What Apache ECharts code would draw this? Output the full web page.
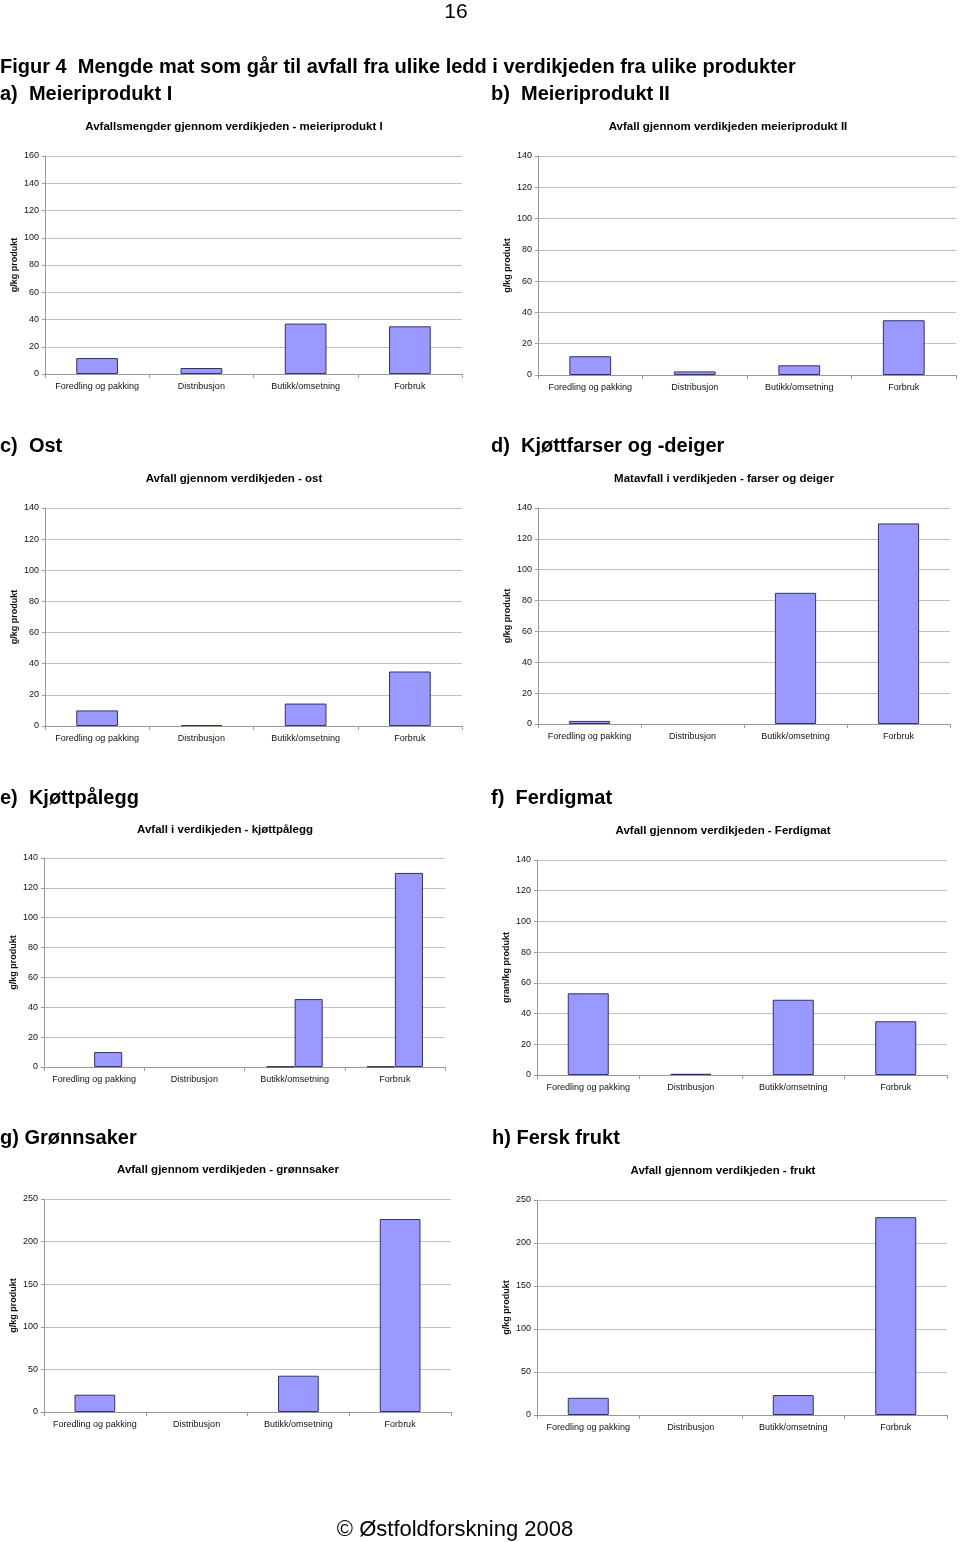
<!DOCTYPE html>
<html>
<head>
<meta charset="utf-8">
<script src="https://cdn.jsdelivr.net/npm/echarts@6/dist/echarts.min.js"></script>
<style>
html,body{margin:0;padding:0;background:#fff;}
#c{width:960px;height:1542px;}
</style>
</head>
<body>
<div id="c"></div>
<script>
// ---- data ----
const categories = ['Foredling og pakking', 'Distribusjon', 'Butikk/omsetning', 'Forbruk'];
const valuesA = [11.7, 4.4, 37, 35];
const valuesB = [12, 2.3, 6.2, 35];
const valuesC = [10, 0.6, 14.4, 35];
const valuesD = [2, 0, 85, 130];
const valuesE0 = [null, null, 0.3, 0.3];   // near-zero companion series
const valuesE = [10, 0, 45.5, 130];
const valuesF = [53.2, 0.8, 49, 35];
const valuesG = [20.3, 0, 42.6, 226.5];
const valuesH = [20, 0, 23.2, 230];

const chartTitles = [
  'Avfallsmengder gjennom verdikjeden - meieriprodukt I',
  'Avfall gjennom verdikjeden meieriprodukt II',
  'Avfall gjennom verdikjeden - ost',
  'Matavfall i verdikjeden - farser og deiger',
  'Avfall i verdikjeden - kjøttpålegg',
  'Avfall gjennom verdikjeden - Ferdigmat',
  'Avfall gjennom verdikjeden - grønnsaker',
  'Avfall gjennom verdikjeden - frukt'
];
const sectionLabels = [
  'a)  Meieriprodukt I', 'b)  Meieriprodukt II',
  'c)  Ost', 'd)  Kjøttfarser og -deiger',
  'e)  Kjøttpålegg', 'f)  Ferdigmat',
  'g) Grønnsaker', 'h) Fersk frukt'
];
const yAxisNames = ['g/kg produkt', 'g/kg produkt', 'g/kg produkt', 'g/kg produkt',
  'g/kg produkt', 'gram/kg produkt', 'g/kg produkt', 'g/kg produkt'];
const yMax = [160, 140, 140, 140, 140, 140, 250, 250];
const yStep = [20, 20, 20, 20, 20, 20, 50, 50];
const pageTitle = 'Figur 4  Mengde mat som går til avfall fra ulike ledd i verdikjeden fra ulike produkter';
const pageNumber = '16';
const footer = '© Østfoldforskning 2008';

// ---- layout ----
const FONT = '"Liberation Sans", Arial, Helvetica, sans-serif';
const grids = [
  {left: 45, top: 156, width: 417, height: 218},
  {left: 538, top: 156, width: 418, height: 219},
  {left: 45, top: 508, width: 417, height: 218},
  {left: 538, top: 508, width: 412, height: 216},
  {left: 44, top: 858, width: 401, height: 209},
  {left: 537, top: 860, width: 410, height: 215},
  {left: 44, top: 1199, width: 407, height: 213},
  {left: 537, top: 1200, width: 410, height: 215}
];
const titleY = [127, 127, 479, 479, 830, 831, 1170, 1171];
const sectionPos = [[0, 94], [491, 94], [0, 446], [491, 446], [0, 798], [491, 798], [0, 1138], [492, 1138]];
const panelCenterX = [234, 728, 234, 724, 225, 723, 228, 723];

const barStyle = {color: '#9999ff', borderColor: '#333366', borderWidth: 1};

const xAxes = grids.map((g, i) => ({
  type: 'category', gridIndex: i, data: categories,
  axisLine: {lineStyle: {color: '#999999', width: 1}},
  axisTick: {show: true, length: 4, lineStyle: {color: '#999999'}},
  axisLabel: {color: '#111', fontSize: 9, fontFamily: FONT, margin: 8, interval: 0}
}));
const yAxes = grids.map((g, i) => ({
  type: 'value', gridIndex: i, min: 0, max: yMax[i], interval: yStep[i],
  name: yAxisNames[i], nameLocation: 'middle', nameRotate: 90, nameGap: 26,
  nameTextStyle: {fontSize: 9, fontWeight: 'bold', fontFamily: FONT, color: '#111'},
  axisLine: {show: true, lineStyle: {color: '#999999', width: 1}},
  axisTick: {show: true, length: 3, lineStyle: {color: '#999999'}},
  axisLabel: {color: '#111', fontSize: 9, fontFamily: FONT, margin: 6},
  splitLine: {show: true, lineStyle: {color: '#c0c0c0', width: 1}}
}));

// zero values: keep the value, but draw no outline (as in the reference)
function toData(vals) {
  return vals.map(v => (v === 0 ? {value: 0, itemStyle: {borderWidth: 0, opacity: 0}} : v));
}

const allValues = [valuesA, valuesB, valuesC, valuesD, valuesE, valuesF, valuesG, valuesH];
const series = [];
allValues.forEach((vals, i) => {
  if (i === 4) {
    series.push({type: 'bar', xAxisIndex: i, yAxisIndex: i, data: valuesE0,
      barWidth: '28%', barGap: '0%', itemStyle: {color: '#333366', borderColor: '#333366', borderWidth: 1}});
    series.push({type: 'bar', xAxisIndex: i, yAxisIndex: i, data: toData(vals),
      barWidth: '28%', barGap: '0%', itemStyle: barStyle});
  } else {
    series.push({type: 'bar', xAxisIndex: i, yAxisIndex: i, data: toData(vals),
      barWidth: '40%', itemStyle: barStyle});
  }
});

const graphic = [];
graphic.push({type: 'text', x: 456, y: 12, style: {text: pageNumber, font: '21px ' + FONT, fill: '#000', textAlign: 'center', textVerticalAlign: 'middle'}});
graphic.push({type: 'text', x: 0, y: 67, style: {text: pageTitle, font: 'bold 20px ' + FONT, fill: '#000', textVerticalAlign: 'middle'}});
sectionLabels.forEach((s, i) => {
  graphic.push({type: 'text', x: sectionPos[i][0], y: sectionPos[i][1], style: {text: s, font: 'bold 20px ' + FONT, fill: '#000', textVerticalAlign: 'middle'}});
});
chartTitles.forEach((s, i) => {
  graphic.push({type: 'text', x: panelCenterX[i], y: titleY[i], style: {text: s, font: 'bold 11.5px ' + FONT, fill: '#000', textAlign: 'center', textVerticalAlign: 'middle'}});
});
graphic.push({type: 'text', x: 455, y: 1530, style: {text: footer, font: '22px ' + FONT, fill: '#000', textAlign: 'center', textVerticalAlign: 'middle'}});

const chart = echarts.init(document.getElementById('c'), null, {renderer: 'canvas'});
chart.setOption({
  animation: false,
  backgroundColor: '#ffffff',
  grid: grids.map(g => Object.assign({containLabel: false}, g)),
  xAxis: xAxes,
  yAxis: yAxes,
  series: series,
  graphic: graphic
});
</script>
</body>
</html>
